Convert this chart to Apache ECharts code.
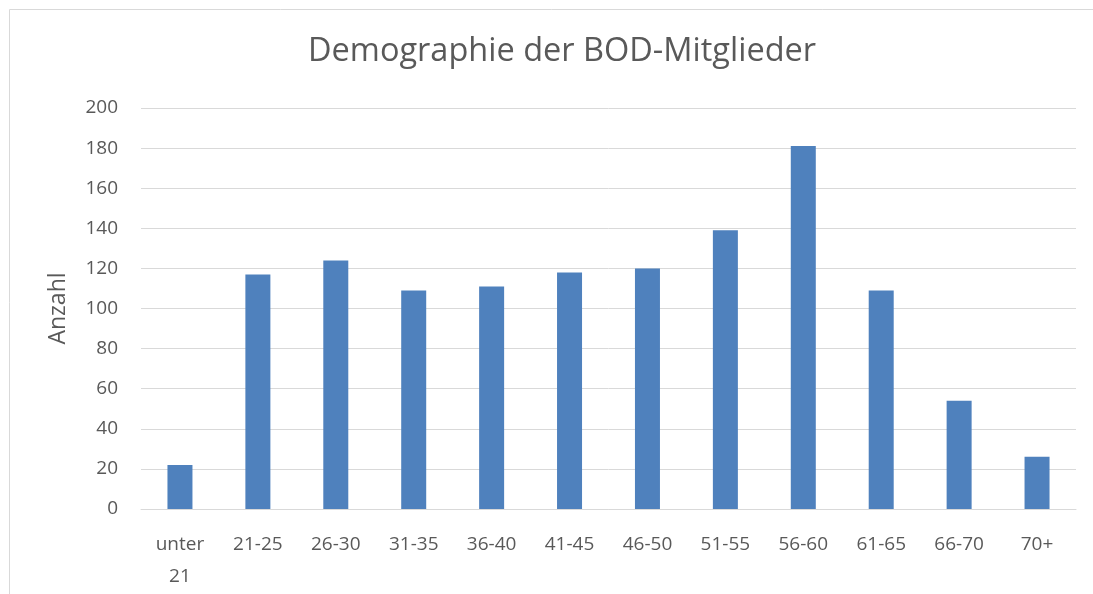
<!DOCTYPE html>
<html>
<head>
<meta charset="utf-8">
<script src="https://cdn.jsdelivr.net/npm/echarts@6/dist/echarts.min.js"></script>
<style>
  html, body { margin: 0; padding: 0; background: #fff; }
  #chart { width: 1093px; height: 594px; }
</style>
</head>
<body>
<div id="chart"></div>
<script>
  var categories = ['unter\n21', '21-25', '26-30', '31-35', '36-40', '41-45', '46-50', '51-55', '56-60', '61-65', '66-70', '70+'];
  var anzahl = [22, 117, 124, 109, 111, 118, 120, 139, 181, 109, 54, 26];
  var yTicks = { min: 0, max: 200, interval: 20 };

  var textColor = '#595959';
  var font = '"Open Sans", "Liberation Sans", sans-serif';

  var chart = echarts.init(document.getElementById('chart'));

  chart.setOption({
    animation: false,
    textStyle: { fontFamily: font },
    // outer chart frame (only top/left visible in the picture)
    graphic: [{
      type: 'rect',
      shape: { x: 9.5, y: 9.5, width: 1100, height: 600 },
      style: { fill: 'none', stroke: '#d9d9d9', lineWidth: 1 },
      silent: true
    }],
    title: {
      text: 'Demographie der BOD-Mitglieder',
      left: 557,
      textAlign: 'center',
      top: 30,
      textStyle: { fontFamily: font, fontSize: 32.5, fontWeight: 'normal', color: textColor }
    },
    grid: { left: 141, right: 17, top: 108, bottom: 85 },
    xAxis: {
      type: 'category',
      data: categories,
      axisLine: { lineStyle: { color: '#d9d9d9', width: 1 } },
      axisTick: { show: false },
      axisLabel: { color: textColor, fontSize: 19, margin: 20, lineHeight: 32, interval: 0 }
    },
    yAxis: {
      type: 'value',
      min: yTicks.min,
      max: yTicks.max,
      interval: yTicks.interval,
      name: 'Anzahl',
      nameLocation: 'middle',
      nameGap: 71,
      nameRotate: 90,
      nameTextStyle: { color: textColor, fontSize: 23 },
      axisLine: { show: false },
      axisTick: { show: false },
      axisLabel: { color: textColor, fontSize: 19, margin: 23 },
      splitLine: { lineStyle: { color: '#d9d9d9', width: 1 } }
    },
    series: [{
      type: 'bar',
      data: anzahl,
      barWidth: 25,
      itemStyle: { color: '#4f81bd' }
    }]
  });
</script>
</body>
</html>
